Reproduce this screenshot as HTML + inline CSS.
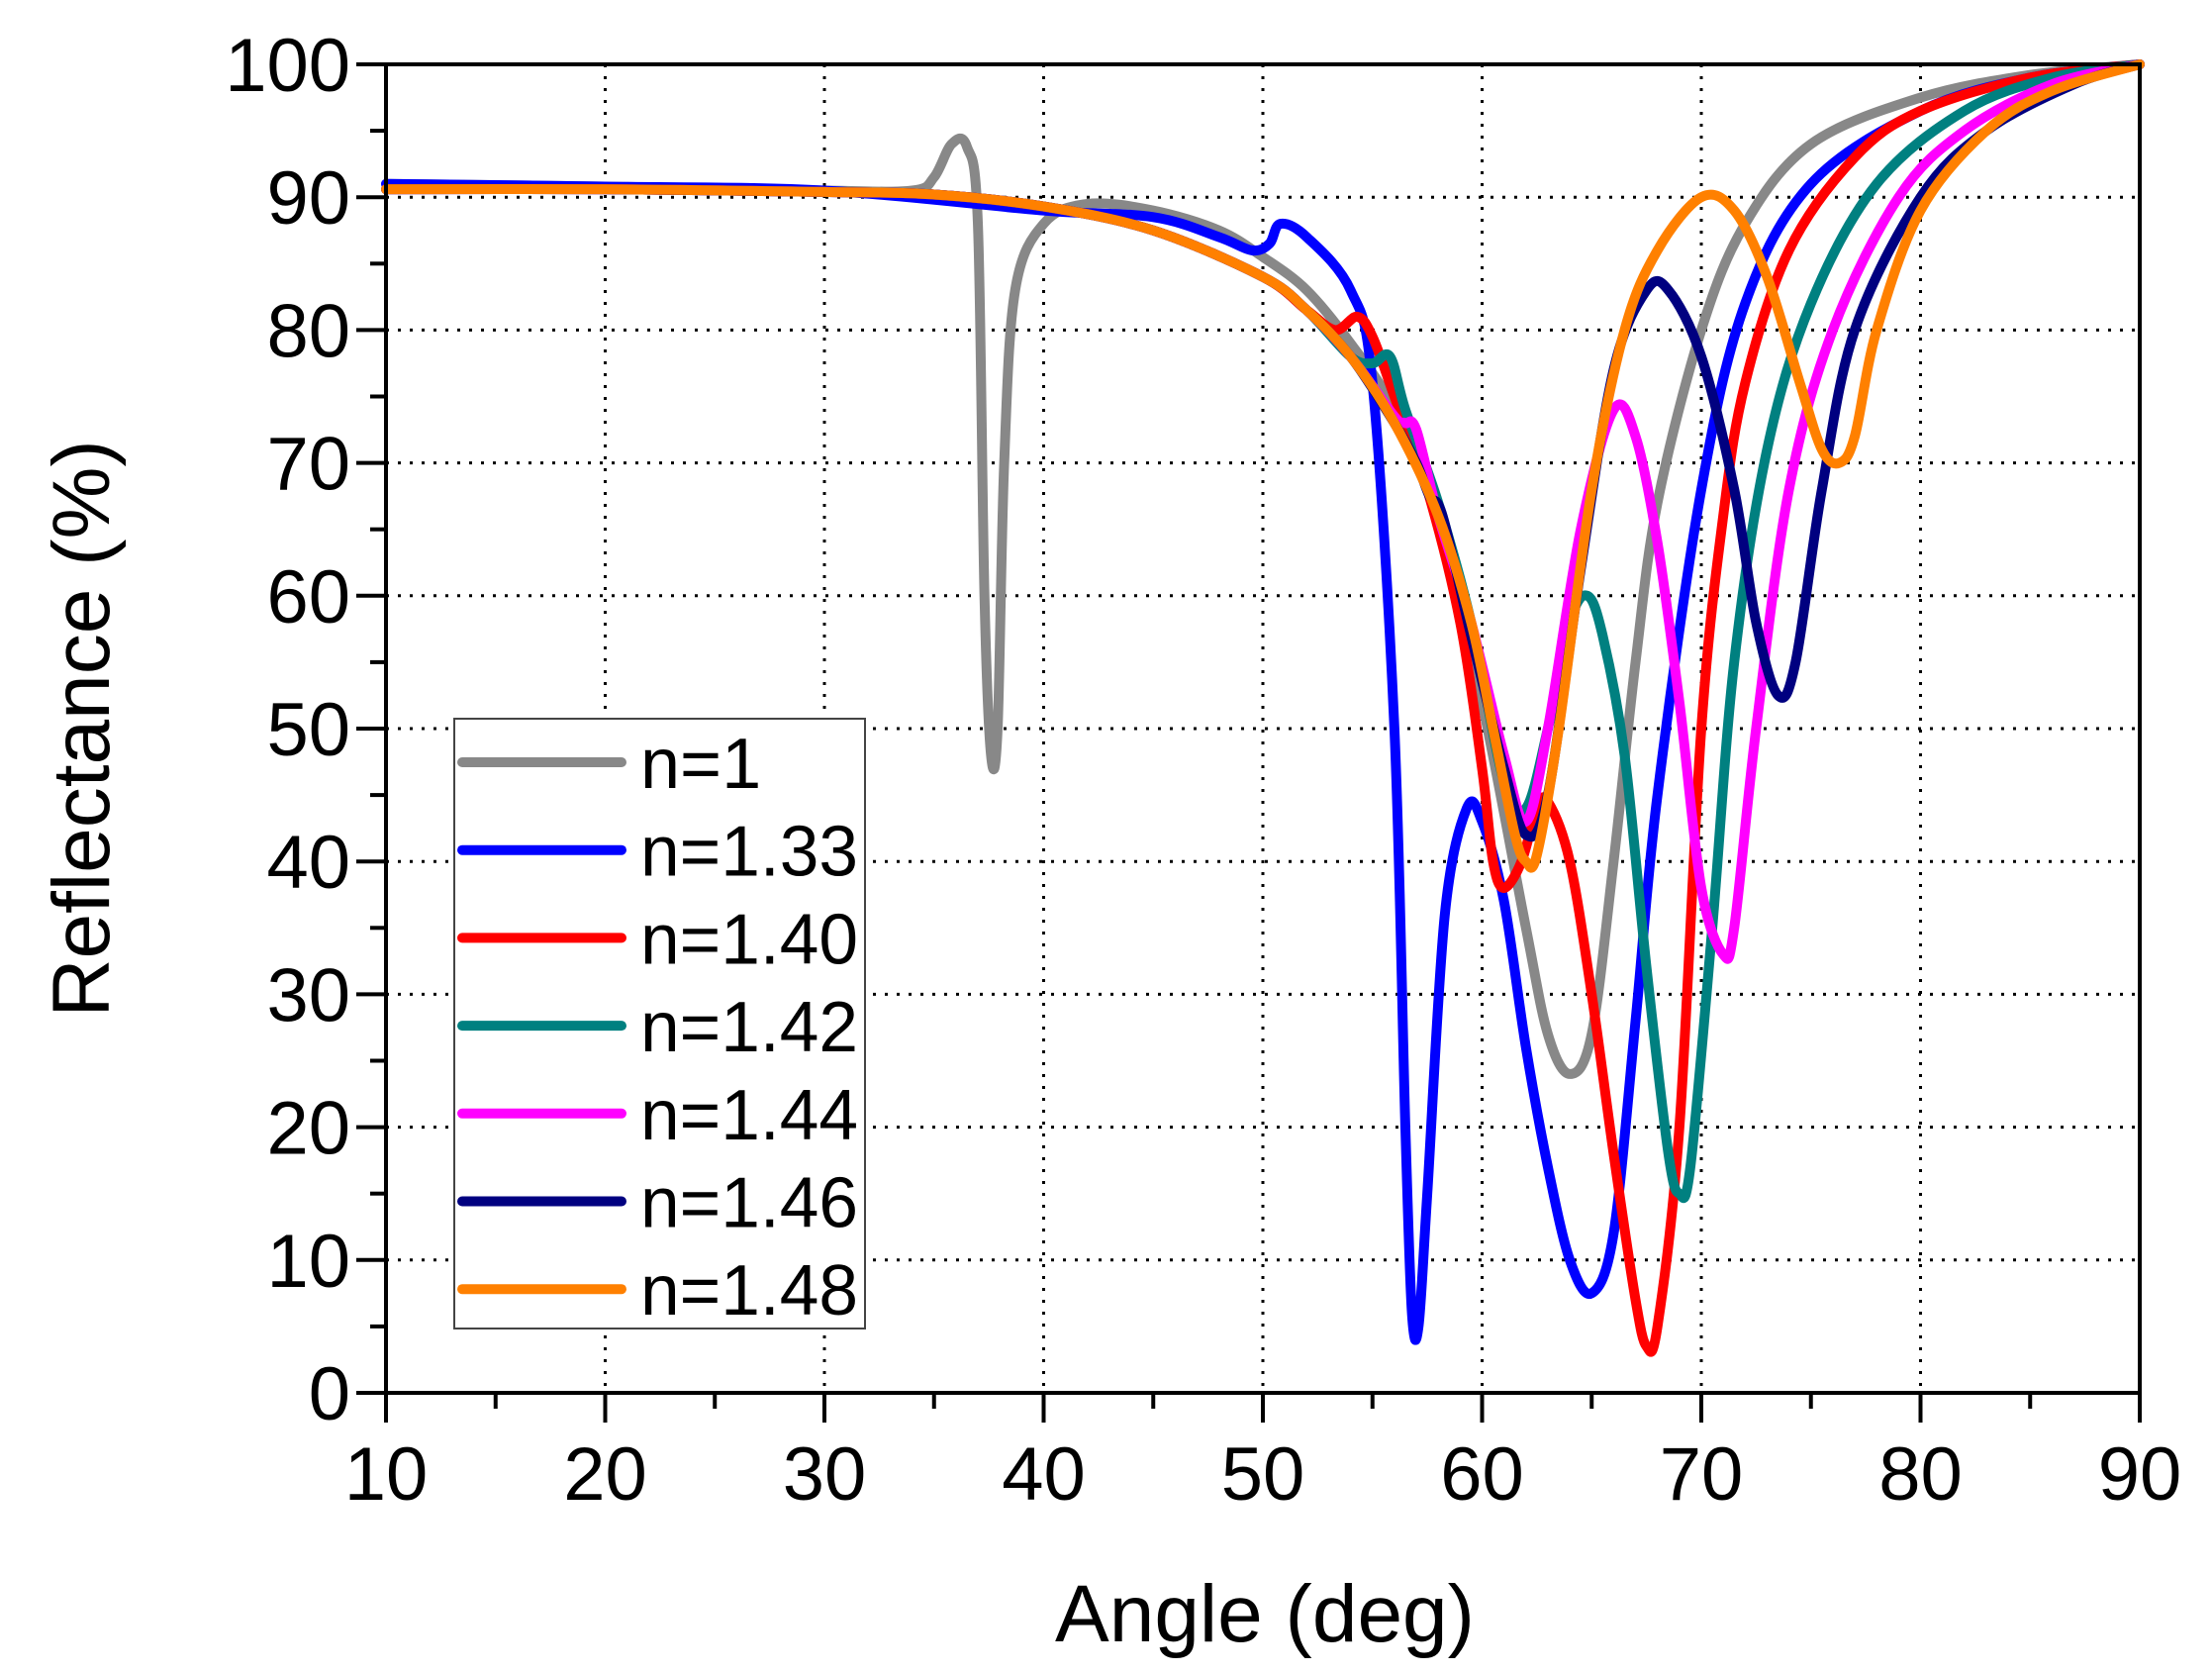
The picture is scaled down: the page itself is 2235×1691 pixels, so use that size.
<!DOCTYPE html>
<html><head><meta charset="utf-8"><style>
html,body{margin:0;padding:0;background:#fff}
svg{display:block;font-family:"Liberation Sans",sans-serif}
</style></head><body>
<svg id="chart" width="2235" height="1691" viewBox="0 0 2235 1691" xmlns="http://www.w3.org/2000/svg">
<g id="grid"></g>
<g id="series"></g>
<g id="axes"></g>
<text x="1278" y="1658" font-size="82" text-anchor="middle">Angle (deg)</text>
<text transform="translate(110,736) rotate(-90)" font-size="82" text-anchor="middle">Reflectance (%)</text>
<g id="legend"></g>
</svg>
<script>
const xTicks=[10,20,30,40,50,60,70,80,90];
const yTicks=[0,10,20,30,40,50,60,70,80,90,100];
const seriesNames=["n=1","n=1.33","n=1.40","n=1.42","n=1.44","n=1.46","n=1.48"];
const seriesColors=["#888888","#0000ff","#ff0000","#008080","#ff00ff","#000080","#ff8000"];
const s1x=[10,20,30,34,35,35.8,36.5,37,37.3,37.6,37.9,38.2,38.7,40,42,45,48,50,52,54,56,58,60,62,63,64,65,66,67,68,70,72,75,80,85,90];
const s1y=[91,90.8,90.5,90.5,91.5,94,93.8,88,60,48,50,70,83,88,89.5,89,87.5,85.5,83,79,74,66,52,35,27,24,27,40,55,67,80,88,94,97.5,99.2,100];
const s2x=[10,20,30,40,45,48,49.5,50.3,50.8,52,54,55,56,56.5,56.8,57.1,57.5,58.3,59.3,60,61,62,63,64,65,66,67,68,70,72,75,80,85,90];
const s2y=[91,90.8,90.5,89,88.5,87,86,86.5,88,87,83,76,50,20,6,5,15,36,44,43,37,26,17,10,7.5,12,28,45,68,82,91,96.5,99,100];
const s3x=[10,20,30,35,40,45,50,52,53.3,54.3,55,56,57.5,59,60,60.5,61,61.8,62.5,63,64,65,66,67,67.5,68,69,70,71,72,74,77,80,85,90];
const s3y=[90.6,90.6,90.4,90.2,89.3,87.5,84,81.5,80,81,79.5,75,68,58,47,40,38,40,44,44.5,40,30,18,7,3.5,5,20,50,66,76,86,93,96.5,99,100];
const s4x=[10,20,30,35,40,45,50,52,54,55,55.8,56.5,58,59.5,61,62,63,64,64.8,65.5,66.5,67.5,68.5,69,69.5,70.5,71.5,73,75,78,82,86,90];
const s4y=[90.6,90.6,90.4,90.2,89.3,87.5,84,81.5,78,77.5,78,74,67,58,46,44,50,58,60,57,48,32,18,15,17,35,55,71,82,91,96.5,99,100];
const s5x=[10,20,30,35,40,45,50,52,54,56,56.5,57,58,59.5,61,62,63,64.5,66,67,68,69,70,71,71.5,72.5,74,76,79,82,86,90];
const s5y=[90.6,90.6,90.4,90.2,89.3,87.5,84,81.5,78,73.5,73,72.5,66,58,48,43,50,65,74,72,64,52,38,33,35,50,68,80,90,95,98.5,100];
const s6x=[10,20,30,35,40,45,50,52,54,56,57,57.6,58.2,59.5,61,62,63,64.5,66,67.5,68.5,70,71.5,72.5,73.5,74.3,75.5,77,80,83,87,90];
const s6y=[90.6,90.6,90.4,90.2,89.3,87.5,84,81.5,78,73,70,67.5,66,57,47,42,45,62,77,83,83,78,68,58,52.5,55,68,80,90,95,98.5,100];
const s7x=[10,20,30,35,40,45,50,52,54,56,58,59.5,60.5,61.5,62,62.5,63.5,65,66.5,68,70,71.5,73,74.5,75.5,76.3,77,78,80,83,86,90];
const s7y=[90.6,90.6,90.4,90.2,89.3,87.5,84,81.5,78,73,66,58,50,42,40,40.5,50,68,80,86,90,89,84,76,71,70,72,80,89,95,98,100];
const seriesX=[s1x,s2x,s3x,s4x,s5x,s6x,s7x];
const seriesY=[s1y,s2y,s3y,s4y,s5y,s6y,s7y];

const L=390,R=2162,T=65,B=1407;
const sx=v=>L+(v-10)/80*(R-L);
const sy=v=>B-v/100*(B-T);
const NS="http://www.w3.org/2000/svg";
function mk(tag,attrs,parent){const e=document.createElementNS(NS,tag);for(const k in attrs)e.setAttribute(k,attrs[k]);parent.appendChild(e);return e;}
const grid=document.getElementById('grid'),axes=document.getElementById('axes'),ser=document.getElementById('series'),leg=document.getElementById('legend');
xTicks.forEach(v=>{
  if(v>10&&v<90){const g=mk('line',{x1:sx(v),x2:sx(v),y1:T,y2:B,stroke:'#000','stroke-width':3,'stroke-dasharray':'3 9'},grid);
  
  }
  const t=mk('line',{x1:sx(v),x2:sx(v),y1:B,y2:B+30,stroke:'#000','stroke-width':4},axes);
  
  
  const lb=mk('text',{x:sx(v),y:B+108,'font-size':76,'text-anchor':'middle'},axes);lb.textContent=v;
  
  
  if(v<90){const m=mk('line',{x1:sx(v+5),x2:sx(v+5),y1:B,y2:B+16,stroke:'#000','stroke-width':4},axes);
  
  }
});
yTicks.forEach(v=>{
  if(v>0&&v<100){const g=mk('line',{x1:L,x2:R,y1:sy(v),y2:sy(v),stroke:'#000','stroke-width':3,'stroke-dasharray':'3 9'},grid);
  
  }
  const t=mk('line',{x1:L-30,x2:L,y1:sy(v),y2:sy(v),stroke:'#000','stroke-width':4},axes);
  
  
  const lb=mk('text',{x:L-36,y:sy(v)+27,'font-size':76,'text-anchor':'end'},axes);lb.textContent=v;
  
  
  if(v<100){const m=mk('line',{x1:L-16,x2:L,y1:sy(v+5),y2:sy(v+5),stroke:'#000','stroke-width':4},axes);
  
  }
});
const fr=mk('rect',{x:L,y:T,width:R-L,height:B-T,fill:'none',stroke:'#000','stroke-width':4},axes);


function pathD(xs,ys){
  const p=xs.map((x,i)=>[sx(x),sy(ys[i])]);
  let d=`M${p[0][0]},${p[0][1]}`;
  for(let i=0;i<p.length-1;i++){
    const p0=p[Math.max(0,i-1)],p1=p[i],p2=p[i+1],p3=p[Math.min(p.length-1,i+2)];
    const c1=[p1[0]+(p2[0]-p0[0])/6,p1[1]+(p2[1]-p0[1])/6];
    const c2=[p2[0]-(p3[0]-p1[0])/6,p2[1]-(p3[1]-p1[1])/6];
    d+=`C${c1[0]},${c1[1]} ${c2[0]},${c2[1]} ${p2[0]},${p2[1]}`;
  }
  return d;
}
seriesNames.forEach((n,i)=>{
  const pa=mk('path',{d:pathD(seriesX[i],seriesY[i]),fill:'none',stroke:seriesColors[i],'stroke-width':10,'stroke-linejoin':'round','stroke-linecap':'round'},ser);
  
  
});
const lb=mk('rect',{x:459,y:726,width:415,height:616,fill:'#fff',stroke:'#444','stroke-width':2},leg);


seriesNames.forEach((n,i)=>{
  const y=770+i*88.7;
  const ln=mk('line',{x1:467,x2:628,y1:y,y2:y,stroke:seriesColors[i],'stroke-width':10,'stroke-linecap':'round'},leg);
  
  
  const t=mk('text',{x:647,y:y+26,'font-size':72,textLength:220,lengthAdjust:'spacingAndGlyphs'},leg);t.textContent=n;
  if(i===0){t.removeAttribute('textLength');t.removeAttribute('lengthAdjust');}
  
  
});
</script>
</body></html>
